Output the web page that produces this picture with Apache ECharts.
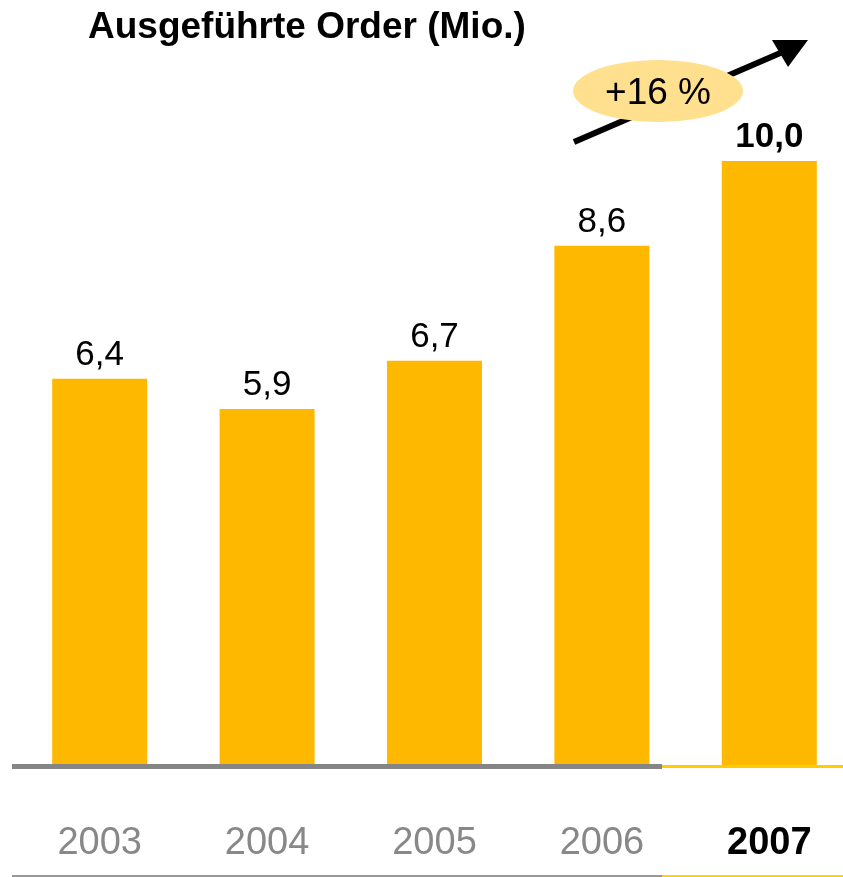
<!DOCTYPE html>
<html>
<head>
<meta charset="utf-8">
<script src="https://cdn.jsdelivr.net/npm/echarts@6/dist/echarts.min.js"></script>
<style>
  html, body { margin: 0; padding: 0; background: #fff; }
  #chart { width: 843px; height: 877px; }
</style>
</head>
<body>
<div id="chart"></div>
<script>
// Ausgeführte Order (Mio.) per Jahr
var years = ['2003', '2004', '2005', '2006', '2007'];
var orders = [6.4, 5.9, 6.7, 8.6, 10.0];
var growthText = '+16 %';

var barColor = '#FFB800';
var lastIdx = years.length - 1;

function fmt(v) {
    return v.toFixed(1).replace('.', ',');
}

var chart = echarts.init(document.getElementById('chart'));

var option = {
    animation: false,
    title: {
        text: 'Ausgeführte Order (Mio.)',
        left: 83,
        top: 4,
        textStyle: {
            fontFamily: 'Liberation Sans',
            fontSize: 37,
            fontWeight: 'bold',
            color: '#000'
        }
    },
    grid: {
        left: 16,
        top: 161,
        width: 837,
        bottom: 111,
        containLabel: false,
        outerBoundsMode: 'none'
    },
    xAxis: {
        type: 'category',
        data: years,
        axisLine: { show: false },
        axisTick: { show: false },
        axisLabel: {
            interval: 0,
            margin: 59,
            fontFamily: 'Liberation Sans',
            fontSize: 38,
            color: '#888888',
            formatter: function (val, idx) {
                return idx === lastIdx ? '{b|' + val + '}' : val;
            },
            rich: {
                b: {
                    fontFamily: 'Liberation Sans',
                    fontSize: 38,
                    fontWeight: 'bold',
                    color: '#000'
                }
            }
        }
    },
    yAxis: {
        type: 'value',
        min: 0,
        max: 10,
        show: false,
        splitLine: { show: false }
    },
    series: [{
        type: 'bar',
        barWidth: 95,
        itemStyle: { color: barColor },
        data: orders.map(function (v, i) {
            return {
                value: v,
                label: i === lastIdx ? { fontWeight: 'bold' } : {}
            };
        }),
        label: {
            show: true,
            position: 'top',
            distance: 6,
            fontFamily: 'Liberation Sans',
            fontSize: 35,
            color: '#000',
            formatter: function (p) { return fmt(p.value); }
        }
    }],
    graphic: [
        // baseline: grey up to 2006, yellow for 2007
        { type: 'rect', shape: { x: 12, y: 764, width: 650, height: 5 }, style: { fill: '#858585' }, z: 10 },
        { type: 'rect', shape: { x: 662, y: 765, width: 181, height: 3 }, style: { fill: '#FFCC00' }, z: 10 },
        // bottom rule
        { type: 'rect', shape: { x: 12, y: 875, width: 650, height: 2 }, style: { fill: '#999999' } },
        { type: 'rect', shape: { x: 662, y: 875, width: 181, height: 2 }, style: { fill: '#FFD200' } },
        // growth arrow
        { type: 'line', shape: { x1: 574, y1: 142, x2: 785, y2: 51 }, style: { stroke: '#000', lineWidth: 6 }, z: 20 },
        { type: 'polygon', shape: { points: [[808, 40], [772, 40], [788, 67]] }, style: { fill: '#000' }, z: 20 },
        { type: 'ellipse', shape: { cx: 658, cy: 91, rx: 85, ry: 31 }, style: { fill: '#FFE08E' }, z: 21 },
        {
            type: 'text', x: 658, y: 94, z: 22,
            style: {
                text: growthText,
                fontFamily: 'Liberation Sans',
                fontSize: 37,
                fill: '#000',
                align: 'center',
                verticalAlign: 'middle'
            }
        }
    ]
};

chart.setOption(option);
window.addEventListener('resize', chart.resize);
</script>
</body>
</html>
